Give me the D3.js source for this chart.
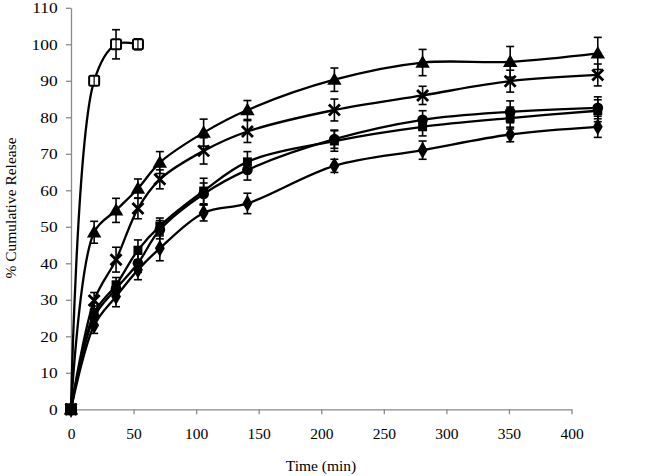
<!DOCTYPE html>
<html>
<head>
<meta charset="utf-8">
<script src="https://cdn.jsdelivr.net/npm/d3@7"></script>
<style>
  html, body { margin: 0; padding: 0; background: #fff; }
  svg { display: block; }
  text { font-family: "Liberation Serif", "Times New Roman", serif; fill: #000; }
</style>
</head>
<body>
<svg id="chart" width="668" height="476"></svg>
<script>
// Sampling times as read against the drawn x axis
const times = [0, 18.5, 36, 53.5, 71, 106, 141, 210.5, 281, 351, 421];

// Series values (% cumulative release) and error bar half-widths
const openSquareVals = [0, 90, 100, 100];
const openSquareErr  = [0, 1, 4, 1.5];

const triangleVals = [0, 48.5, 54.5, 60.5, 67.6, 75.8, 82, 90.3, 95, 95.2, 97.5];
const triangleErr  = [0, 3, 3.3, 2.6, 3, 3.7, 2.6, 3.2, 3.6, 4.2, 4.4];

const crossVals = [0, 29.8, 41, 55, 63, 70.8, 76.1, 82, 86, 89.9, 91.6];
const crossErr  = [0, 2.2, 3.4, 2.8, 2.6, 3.6, 3, 3, 2.5, 3, 3];

const squareVals = [0, 26.3, 34.1, 43.6, 50.2, 59.8, 67.8, 73.5, 77.4, 79.8, 81.8];
const squareErr  = [0, 2, 2, 2.8, 2.2, 3.5, 2.8, 2.8, 2.5, 3, 3];

const circleVals = [0, 25.3, 33, 40, 49.2, 59, 65.6, 74, 79.3, 81.5, 82.6];
const circleErr  = [0, 2, 2, 2.5, 2.5, 3, 2.8, 2.5, 2.5, 3, 3];

const diamondVals = [0, 23, 30.9, 38.2, 44.1, 53.8, 56.4, 66.7, 71, 75.3, 77.4];
const diamondErr  = [0, 2.2, 2.8, 2.7, 3.4, 2.2, 2.8, 1.8, 2.5, 2, 2.9];

const xTicks = [0, 50, 100, 150, 200, 250, 300, 350, 400];
const yTicks = [0, 10, 20, 30, 40, 50, 60, 70, 80, 90, 100, 110];
const xTitle = "Time (min)";
const yTitle = "% Cumulative Release";

const series = [
  { name: "openSquare", vals: openSquareVals, err: openSquareErr, marker: "openSquare" },
  { name: "diamond", vals: diamondVals, err: diamondErr, marker: "diamond" },
  { name: "circle", vals: circleVals, err: circleErr, marker: "circle" },
  { name: "square", vals: squareVals, err: squareErr, marker: "square" },
  { name: "cross", vals: crossVals, err: crossErr, marker: "cross" },
  { name: "triangle", vals: triangleVals, err: triangleErr, marker: "triangle" }
];

const svg = d3.select("#chart");
svg.append("rect").attr("width", 668).attr("height", 476).attr("fill", "#fff");

const x = d3.scaleLinear().domain([0, 400]).range([71, 571.5]);
const y = d3.scaleLinear().domain([0, 110]).range([409.3, 7.8]);

const axisColor = "#8a8a8a";

// Axes
const gx = svg.append("g").attr("transform", `translate(0,${y(0)})`)
  .call(d3.axisBottom(x).tickValues(xTicks).tickSize(5).tickSizeOuter(0).tickPadding(14));
const gy = svg.append("g").attr("transform", `translate(${x(0)},0)`)
  .call(d3.axisLeft(y).tickValues(yTicks).tickSize(5).tickSizeOuter(0).tickPadding(7));
[gx, gy].forEach(g => {
  g.select(".domain").attr("stroke", axisColor).attr("stroke-width", 1.3);
  g.selectAll(".tick line").attr("stroke", axisColor).attr("stroke-width", 1.3);
  g.selectAll(".tick text").attr("font-family", "'Liberation Serif', 'Times New Roman', serif").attr("fill", "#000");
});
gx.selectAll(".tick text").attr("font-size", 15.5);
gy.selectAll(".tick text").attr("font-size", 15.5).attr("transform", "scale(1.12,1)");

// Titles
svg.append("text").attr("x", 321).attr("y", 471).attr("text-anchor", "middle")
  .attr("font-size", 15.5).text(xTitle);
svg.append("text").attr("transform", "translate(16,208) rotate(-90)")
  .attr("text-anchor", "middle").attr("font-size", 15.5).text(yTitle);

const line = d3.line()
  .x((d, i) => x(times[i]))
  .y(d => y(d))
  .curve(d3.curveCatmullRom.alpha(0.5));

// Lines
series.forEach(s => {
  svg.append("path").datum(s.vals)
    .attr("fill", "none").attr("stroke", "#000").attr("stroke-width", 2.3)
    .attr("stroke-linejoin", "round").attr("d", line);
});

// Error bars
series.forEach(s => {
  const g = svg.append("g").attr("stroke", "#000").attr("stroke-width", 1.6);
  s.vals.forEach((v, i) => {
    const e = s.err[i];
    if (!e) return;
    const cx = x(times[i]);
    g.append("line").attr("x1", cx).attr("x2", cx).attr("y1", y(v - e)).attr("y2", y(v + e));
    g.append("line").attr("x1", cx - 4).attr("x2", cx + 4).attr("y1", y(v + e)).attr("y2", y(v + e));
    g.append("line").attr("x1", cx - 4).attr("x2", cx + 4).attr("y1", y(v - e)).attr("y2", y(v - e));
  });
});

// Markers
const sym = {
  triangle: d3.symbol().type(d3.symbolTriangle).size(90)(),
  diamond: d3.symbol().type(d3.symbolDiamond).size(85)(),
  circle: d3.symbol().type(d3.symbolCircle).size(90)(),
  square: d3.symbol().type(d3.symbolSquare).size(80)()
};
series.forEach(s => {
  const g = svg.append("g");
  s.vals.forEach((v, i) => {
    const cx = x(times[i]), cy = y(v);
    if (s.marker === "openSquare") {
      if (i === 0) {
        g.append("rect").attr("x", cx - 6).attr("y", cy - 6).attr("width", 12).attr("height", 12).attr("fill", "#000");
      } else {
        g.append("rect").attr("x", cx - 5).attr("y", cy - 5).attr("width", 10).attr("height", 10)
          .attr("rx", 1.5).attr("fill", "#fff").attr("stroke", "#000").attr("stroke-width", 2);
        g.append("line").attr("x1", cx).attr("x2", cx).attr("y1", cy - 5).attr("y2", cy + 5)
          .attr("stroke", "#000").attr("stroke-width", 1.2);
      }
    } else if (s.marker === "cross") {
      g.append("path").attr("d", `M${cx-5.5},${cy-5.5}L${cx+5.5},${cy+5.5}M${cx-5.5},${cy+5.5}L${cx+5.5},${cy-5.5}`)
        .attr("stroke", "#000").attr("stroke-width", 2.8).attr("fill", "none");
    } else {
      const dy = s.marker === "triangle" ? 1 : 0;
      g.append("path").attr("d", sym[s.marker]).attr("transform", `translate(${cx},${cy + dy})`).attr("fill", "#000");
    }
  });
});
</script>
</body>
</html>
